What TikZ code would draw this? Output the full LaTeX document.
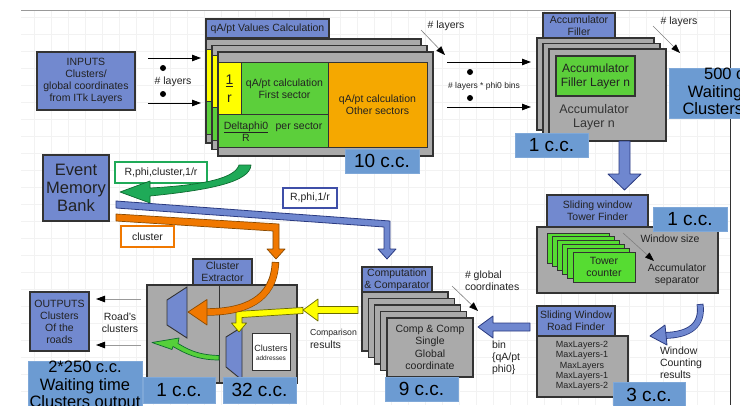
\documentclass[tikz,border=0pt]{standalone}
\usepackage{fontspec}
\setmainfont{Liberation Sans}
\usetikzlibrary{arrows.meta}

\definecolor{tblue}{HTML}{7289CF}
\definecolor{ccblue}{HTML}{6C9BD2}
\definecolor{ccedge}{HTML}{7FA8D8}
\definecolor{cgray}{HTML}{AAAAAA}
\definecolor{cgreen}{HTML}{5CCF3B}
\definecolor{tgreen}{HTML}{56DC32}
\definecolor{cyell}{HTML}{FFFF00}
\definecolor{corange}{HTML}{F5A800}
\definecolor{aorange}{HTML}{F07800}
\definecolor{aoedge}{HTML}{8A4A00}
\definecolor{agreen}{HTML}{1FAA58}
\definecolor{lgreenA}{HTML}{55D03A}
\definecolor{agedge}{HTML}{0E6A30}
\definecolor{ablue}{HTML}{6F87CF}
\definecolor{abedge}{HTML}{2A3A80}
\definecolor{ayedge}{HTML}{6A6A00}
\definecolor{lblue}{HTML}{3F4FA8}
\definecolor{dline}{HTML}{333333}
\definecolor{gridc}{HTML}{F2F2F2}
\definecolor{topc}{HTML}{999999}
\definecolor{tx}{HTML}{222222}

\newcommand\fsize[2]{\fontsize{#1}{#2}\selectfont}

\tikzset{
  base/.style={inner sep=0pt, outer sep=0pt, anchor=north west, align=center, text=tx},
  tbox/.style={base, draw=dline, line width=1.3pt, fill=tblue, font=\fsize{10.5}{12}},
  ccbox/.style={base, fill=ccblue, draw=ccedge, line width=0.8pt, font=\fsize{19}{22}, text=black},
  gbox/.style={draw=dline, line width=1.1pt, fill=cgray},
  tcard/.style={draw=dline, line width=1pt, fill=tgreen},
  lbox/.style={base, fill=white, line width=1.8pt, font=\fsize{10.5}{12}},
  txt/.style={inner sep=0pt, outer sep=0pt, align=center, text=tx, font=\fsize{10.5}{12}},
  thinarrow/.style={draw=black, line width=0.8pt, -{Triangle[length=9pt,width=6.5pt]}},
  diagarrow/.style={draw=gray, line width=0.6pt, -{Triangle[length=9pt,width=6.5pt,color=black]}},
  grayarrow/.style={draw=topc, line width=0.9pt, -{Triangle[length=9pt,width=6.5pt,color=black]}},
  fatblue/.style={fill=ablue, draw=abedge, line width=0.8pt, line join=round},
  fatyellow/.style={fill=cyell, draw=ayedge, line width=0.7pt, line join=round},
  fatorange/.style={fill=aorange, draw=aoedge, line width=0.7pt, line join=round},
  fatgreen/.style={fill=agreen, draw=agedge, line width=0.7pt, line join=round},
}

% one layer of the qA/pt calculation stack, drawn at its top-left corner
\newcommand\qlayer[2]{%
  \begin{scope}[shift={(#1,#2)}]
    \draw[gbox] (0,0) rectangle (215,104);
    \draw[draw=dline, line width=1pt, fill=cyell] (0,10) rectangle (23,62);
    \draw[draw=dline, line width=1pt, fill=cgreen] (23,10) rectangle (110,62);
    \draw[draw=dline, line width=1pt, fill=cgreen] (0,62) rectangle (110,95);
    \draw[draw=dline, line width=1pt, fill=corange] (110,10) rectangle (209,95);
  \end{scope}}

\begin{document}
\begin{tikzpicture}[x=1pt,y=-1pt]
\useasboundingbox (0,0) rectangle (740,405);
\clip (0,0) rectangle (740,405);

% page background
\draw[gridc, line width=0.4pt, step=17pt] (21,10) grid (730,405);
\draw[topc, line width=0.9pt] (21,10) -- (730,10);
\draw[dline, line width=0.9pt] (730,10) -- (730,405);

% ---------------- inputs ----------------
\node[tbox, minimum width=98pt, minimum height=58pt] (inputs) at (37,52)
  {INPUTS\\Clusters/\\global coordinates\\from ITk Layers};
\coordinate (in1s) at (148,58);  \coordinate (in1e) at (201,58);
\coordinate (in2s) at (148,103); \coordinate (in2e) at (201,103);
\draw[thinarrow] (in1s) -- (in1e);
\draw[thinarrow] (in2s) -- (in2e);
\fill (163,68) circle (3pt);
\fill (163,94) circle (3pt);
\node[txt] (nlay1) at (173,82) {\# layers};

% ---------------- qA/pt values calculation ----------------
\qlayer{206}{39}
\qlayer{212}{45.5}
\qlayer{218}{52}
\node[tbox, minimum width=123pt, minimum height=19pt] (qtitle) at (206,19) {qA/pt Values Calculation};
\node[txt, font=\fsize{14}{18}] (inv) at (229.5,89) {\underline{1}\\r};
\node[txt] (first) at (284.5,88.5) {qA/pt calculation\\First sector};
\node[txt, anchor=base] (dphi) at (246,129) {\underline{Deltaphi0}};
\node[txt, anchor=base] (persec) at (299,129) {per sector};
\node[txt, anchor=base] (rr) at (246,141) {R};
\node[txt] (other) at (377.5,105) {qA/pt calculation\\Other sectors};
\node[ccbox, minimum width=74pt, minimum height=24pt] (cc10) at (345,149) {10 c.c.};

% links to the accumulator
\node[txt] (nlay2) at (446,26) {\# layers};
\coordinate (d2s) at (421,30); \coordinate (d2e) at (445,55);
\draw[diagarrow] (d2s) -- (d2e);
\coordinate (m1s) at (447,62);  \coordinate (m1e) at (531,62);
\coordinate (m2s) at (447,107); \coordinate (m2e) at (531,107);
\draw[thinarrow] (m1s) -- (m1e);
\draw[thinarrow] (m2s) -- (m2e);
\fill (470,72) circle (3pt);
\fill (470,98) circle (3pt);
\node[txt, font=\fsize{8.5}{10}] (nbins) at (484,86) {\# layers * phi0 bins};

% ---------------- accumulator filler ----------------
\draw[gbox] (537,38) rectangle ++(117,92);
\draw[gbox] (543,43.5) rectangle ++(117,92);
\draw[gbox] (549,49) rectangle ++(117,92);
\node[base, draw=dline, line width=1.1pt, fill=cgreen, minimum width=79pt, minimum height=40pt,
      font=\fsize{12}{14}] (afl) at (556,56) {Accumulator\\Filler Layer n};
\node[txt, font=\fsize{12.5}{14}, text=dline] (alay) at (594,117) {Accumulator\\Layer n};
\node[tbox, minimum width=72pt, minimum height=25pt] (acct) at (543,13) {Accumulator\\Filler};
\node[ccbox, minimum width=73pt, minimum height=24pt] (cc1a) at (515,133) {1 c.c.};
\node[ccbox, minimum width=128pt, minimum height=50pt, font=\fsize{16.5}{17.5}] (cc500) at (669,68)
  {500 c.c.\\Waiting time\\Clusters input};
\node[txt] (nlay3) at (679,22) {\# layers};
\coordinate (d3s) at (653,26); \coordinate (d3e) at (680,53);
\draw[diagarrow] (d3s) -- (d3e);

% accumulator -> tower finder
\draw[fatblue] (619,141) -- (630,141) -- (630,174) -- (641,174) -- (624.5,190)
  -- (608,174) -- (619,174) -- cycle;

% ---------------- sliding window tower finder ----------------
\draw[gbox] (537,227) rectangle (718,293);
\node[tbox, minimum width=101pt, minimum height=32pt] (twt) at (547,195) {Sliding window\\Tower Finder};
\node[ccbox, minimum width=74pt, minimum height=24pt] (cc1t) at (653,207) {1 c.c.};
\foreach \i in {0,...,5}
  \draw[tcard] (547+5.2*\i, 233+3.8*\i) rectangle ++(62,30);
\node[txt] (tcount) at (604,267) {Tower\\counter};
\node[txt] (wsize) at (670,239) {Window size};
\coordinate (wss) at (623,233); \coordinate (wse) at (654,261);
\draw[diagarrow] (wss) -- (wse);
\node[txt] (asep) at (677,275) {Accumulator\\separator};

% tower finder -> road finder
\draw[abedge, line width=6.8pt] (700,304) .. controls (703,325) and (690,335) .. (664,335.5);
\draw[ablue, line width=5.2pt] (700,304.8) .. controls (703,325) and (690,335) .. (664,335.5);
\draw[fatblue] (665,325) -- (650,336) -- (667,345) -- cycle;
\node[txt, anchor=north west, align=left] (wcount) at (660,347) {Window\\Counting\\results};

% ---------------- sliding window road finder ----------------
\draw[gbox] (537,336) rectangle (628,397);
\node[tbox, minimum width=78pt, minimum height=30pt] (rft) at (537,306) {Sliding Window\\Road Finder};
\node[txt, font=\fsize{9}{10.25}] (maxl) at (582,366)
  {MaxLayers-2\\MaxLayers-1\\MaxLayers\\MaxLayers-1\\MaxLayers-2};
\node[ccbox, minimum width=72pt, minimum height=26pt] (cc3) at (613,382) {3 c.c.};

% road finder -> comparator
\draw[fatblue] (530,323) -- (493,323) -- (493,316) -- (478,327) -- (493,338)
  -- (493,331) -- (530,331) -- cycle;
\node[txt, anchor=north west, align=left] (bin) at (492,341) {bin\\\{qA/pt\\phi0\}};
\node[txt, anchor=north west, align=left] (gcoord) at (465,271) {\# global\\coordinates};
\coordinate (gcs) at (452,286); \coordinate (gce) at (478,311);
\draw[diagarrow] (gcs) -- (gce);

% ---------------- computation & comparator ----------------
\foreach \i in {0,...,4}
  \draw[gbox] (362+6.25*\i, 292+6.5*\i) rectangle ++(86,59);
\node[tbox, minimum width=70pt, minimum height=25pt] (cct) at (362,267) {Computation\\\& Comparator};
\node[txt, font=\fsize{10.5}{12.3}] (ccomp) at (430,347.5) {Comp \& Comp\\Single\\Global\\coordinate};
\node[ccbox, minimum width=73pt, minimum height=24pt] (cc9) at (385,377) {9 c.c.};

% comparator -> cluster extractor
\draw[fatyellow] (358,306.5) -- (318,306.5) -- (318,299) -- (303,310) -- (318,321)
  -- (318,313.5) -- (358,313.5) -- cycle;
\node[txt, anchor=north west, align=left, font=\fsize{8.7}{10}] (cmp1) at (310,329) {Comparison};
\node[txt, anchor=north west, align=left] (cmp2) at (310,341) {results};

% ---------------- cluster extractor ----------------
\draw[gbox] (147,285) rectangle (297,383);
\draw[dline, line width=1pt] (219,285) -- (219,383);
\node[tbox, minimum width=59pt, minimum height=26pt] (cxt) at (193,259) {Cluster\\Extractor};
\draw[fill=tblue, draw=dline, line width=0.9pt] (167,300) -- (187,287) -- (187,338) -- (167,325) -- cycle;
\draw[fill=tblue, draw=dline, line width=0.9pt] (226,337) -- (242,327) -- (242,380) -- (226,367) -- cycle;
\draw[fill=white, draw=dline, line width=0.6pt] (252,333) rectangle (290,370);
\node[txt, font=\fsize{9}{10}] (clad1) at (271,348) {Clusters};
\node[txt, font=\fsize{6.5}{8}] (clad2) at (271,358) {addresses};

\draw[fatyellow] (303,307.5) -- (236,311.5) -- (236,323) -- (231.5,323) -- (239,332)
  -- (246.5,323) -- (242,323) -- (242,317.5) -- (303,313.5) -- cycle;

% orange: memory bank -> extractor input mux
\draw[aoedge, line width=7.4pt] (275.5,262) .. controls (274,300) and (245,312) .. (206,312);
\draw[aorange, line width=6pt] (275.5,262.7) .. controls (274,300) and (245,312) .. (206,312);
\draw[fatorange] (207,299.5) -- (188,312) -- (207,325) -- cycle;

% green: internal feedback in the extractor
\draw[fatgreen, fill=lgreenA] (219,355.5) .. controls (196,355) and (186,348) .. (178,343.5)
  -- (179,338) -- (152,342.5) -- (172,349.5) -- (173,346.5)
  .. controls (186,354) and (198,360) .. (219,360) -- cycle;

% ---------------- event memory bank ----------------
\node[tbox, minimum width=66pt, minimum height=66pt, font=\fsize{16.5}{18.2}] (emb) at (43,155)
  {Event\\Memory\\Bank};
\node[lbox, draw=agreen, minimum width=92pt, minimum height=21pt] (lgreen) at (115,162) {R,phi,cluster,1/r};
\draw[fatgreen] (251,165) .. controls (250,182) and (210,190) .. (150,196)
  -- (150,203) -- (120,192) -- (150,181) -- (150,188)
  .. controls (205,185) and (235,178) .. (239,165) -- cycle;

\draw[fatblue] (116,201) -- (390,221) -- (390,249) -- (396,249) -- (387,259) -- (378,249)
  -- (384,249) -- (384,227) -- (116,208) -- cycle;
\node[lbox, draw=lblue, minimum width=54pt, minimum height=20pt] (lblue) at (283,188) {R,phi,1/r};

\draw[fatorange] (116,214) -- (279,224) -- (279,249) -- (285,249) -- (276,259) -- (267,249)
  -- (273,249) -- (273,231) -- (116,221) -- cycle;
\node[lbox, draw=aorange, minimum width=53pt, minimum height=21pt] (lorange) at (121,226) {cluster};

% ---------------- outputs ----------------
\node[tbox, minimum width=59pt, minimum height=59pt] (outputs) at (30,292)
  {OUTPUTS\\Clusters\\Of the\\roads};
\coordinate (o1s) at (141,299); \coordinate (o1e) at (96,299);
\coordinate (o2s) at (141,345); \coordinate (o2e) at (96,345);
\draw[grayarrow] (o1s) -- (o1e);
\draw[grayarrow] (o2s) -- (o2e);
\node[txt] (roads) at (120,323) {Road’s\\clusters};

\node[ccbox, minimum width=114pt, minimum height=50pt, font=\fsize{16.5}{17.5}] (cc250) at (28,361)
  {2*250 c.c.\\Waiting time\\Clusters output};
\node[ccbox, minimum width=72pt, minimum height=26pt] (cc1x) at (143,377) {1 c.c.};
\node[ccbox, minimum width=73pt, minimum height=26pt] (cc32) at (223,377) {32 c.c.};

\end{tikzpicture}
\end{document}
